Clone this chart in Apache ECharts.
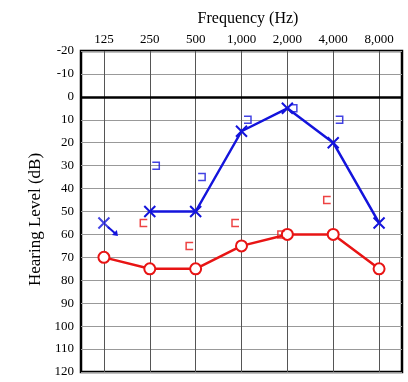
<!DOCTYPE html>
<html><head><meta charset="utf-8">
<script src="https://cdn.jsdelivr.net/npm/echarts@6/dist/echarts.min.js"></script>
<style>html,body{margin:0;padding:0;background:#fff}#c{width:408px;height:382px}</style>
</head><body><div id="c"></div>
<script>
const freqLabels = ['125', '250', '500', '1,000', '2,000', '4,000', '8,000'];
const dbTicks = [-20, 120, 10];
// air conduction (blue X, red O)
const blueAir = [null, 50, 50, 15, 5, 20, 55];
const blueNoResponse = [55, null, null, null, null, null, null];
const redAir = [70, 75, 75, 65, 60, 60, 75];
// bone conduction (blue ], red [)
const blueBone = [null, 30, 35, 10, 5, 10, null];
const redBone = [null, 55, 65, 55, 60, 45, null];

const BLUE = '#1414dc';
const RED = '#e81414';
const SERIF = 'Liberation Serif';

const chart = echarts.init(document.getElementById('c'), null, {renderer: 'canvas'});
chart.setOption({
  animation: false,
  title: {
    text: 'Frequency (Hz)', left: 243, top: 6, textAlign: 'center',
    textStyle: {fontFamily: SERIF, fontSize: 16, fontWeight: 'normal', color: '#000'}
  },
  grid: {left: 81, top: 51, right: 6, bottom: 10, show: true, borderColor: '#000', borderWidth: 2.5, containLabel: false},
  xAxis: {
    type: 'category', position: 'top', data: freqLabels, boundaryGap: true,
    axisLine: {show: false}, axisTick: {show: false},
    axisLabel: {fontFamily: SERIF, fontSize: 13, color: '#000', margin: 5},
    splitLine: {show: true, alignWithLabel: true, lineStyle: {color: '#555', width: 1}}
  },
  yAxis: {
    type: 'value', inverse: true, min: dbTicks[0], max: dbTicks[1], interval: dbTicks[2],
    axisLine: {show: false}, axisTick: {show: false},
    axisLabel: {fontFamily: SERIF, fontSize: 13, color: '#000', margin: 7},
    splitLine: {show: true, lineStyle: {color: '#999', width: 1}},
    name: 'Hearing Level (dB)', nameLocation: 'middle', nameGap: 36,
    nameTextStyle: {fontFamily: SERIF, fontSize: 17, color: '#000', padding: [0, 16, 0, 0]}
  },
  series: [
    {
      type: 'line', data: redAir, symbol: 'emptyCircle', symbolSize: 11,
      itemStyle: {color: RED, borderColor: RED, borderWidth: 2},
      lineStyle: {color: RED, width: 2.5}, z: 3,
      markLine: {
        silent: true, symbol: ['none', 'none'], label: {show: false},
        lineStyle: {color: '#000', width: 2.5, type: 'solid'},
        data: [{yAxis: 0}]
      }
    },
    {
      type: 'line', data: blueAir, symbol: 'path://M0 0L10 10M10 0L0 10', symbolSize: 11,
      itemStyle: {color: BLUE, borderColor: BLUE, borderWidth: 2},
      lineStyle: {color: BLUE, width: 2.5}, z: 4
    },
    {
      type: 'scatter', data: blueNoResponse, symbol: 'path://M0 0L10 10M10 0L0 10', symbolSize: 11,
      itemStyle: {color: BLUE, borderColor: BLUE, borderWidth: 2}, z: 4
    },
    {
      type: 'custom', data: blueNoResponse.map((v, i) => [i, v]).filter(d => d[1] != null), z: 4,
      renderItem: function (params, api) {
        const p = api.coord([api.value(0), api.value(1)]);
        const x0 = p[0] + 4, y0 = p[1] + 4, x1 = p[0] + 14, y1 = p[1] + 13;
        return {type: 'group', children: [
          {type: 'line', shape: {x1: x0, y1: y0, x2: x1 - 2, y2: y1 - 2}, style: {stroke: BLUE, lineWidth: 2}},
          {type: 'polygon', shape: {points: [[x1, y1], [x1 - 6, y1 - 1], [x1 - 1, y1 - 6]]}, style: {fill: BLUE}}
        ]};
      }
    },
    {
      type: 'scatter', data: blueBone, symbol: 'path://M0 0H10V10H0', symbolSize: [7, 7], symbolOffset: [6, 0],
      itemStyle: {color: 'transparent', borderColor: BLUE, borderWidth: 1.5}, z: 5
    },
    {
      type: 'scatter', data: redBone, symbol: 'path://M10 0H0V10H10', symbolSize: [7, 7], symbolOffset: [-6, 0],
      itemStyle: {color: 'transparent', borderColor: RED, borderWidth: 1.5}, z: 5
    }
  ]
});
</script></body></html>
